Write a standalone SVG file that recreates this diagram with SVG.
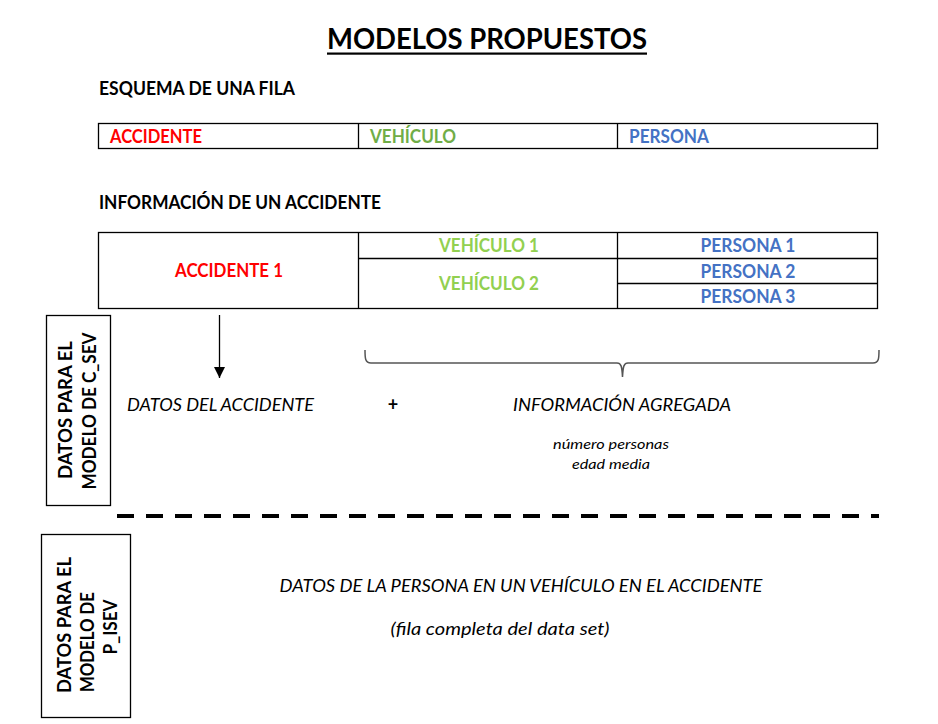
<svg xmlns="http://www.w3.org/2000/svg" width="938" height="724" viewBox="0 0 938 724">
<defs>
<style>
text{font-family:Lato,"Open Sans","Liberation Sans",sans-serif;}
.b{font-weight:bold;font-size:18px;}
.i{font-style:italic;font-size:18px;}
.s{font-style:italic;font-size:14px;}
.red{fill:#FF0000;}
.grn{fill:#70AD47;}
.lgr{fill:#92D050;}
.blu{fill:#4472C4;}
.box{fill:#fff;stroke:#000;stroke-width:1.3;}
.ln{stroke:#000;stroke-width:1.3;fill:none;}
</style>
<marker id="ah" markerWidth="11" markerHeight="11" refX="10" refY="5" orient="auto" markerUnits="userSpaceOnUse" viewBox="0 0 10 10">
<path d="M0,0 L10,5 L0,10 Z" fill="#000"/>
</marker>
</defs>
<rect width="938" height="724" fill="#fff"/>

<g id="title">
<text x="487" y="49" text-anchor="middle" font-weight="bold" font-size="28" textLength="320" lengthAdjust="spacingAndGlyphs">MODELOS PROPUESTOS</text>
<rect x="327" y="52.5" width="320" height="2.2" fill="#000"/>
</g>

<g id="heading1">
<text x="99" y="95" class="b" textLength="196" lengthAdjust="spacingAndGlyphs">ESQUEMA DE UNA FILA</text>
</g>

<g id="schema-row">
<rect x="98.5" y="123.5" width="779" height="25" class="box"/>
<line x1="358.5" y1="123.5" x2="358.5" y2="148.5" class="ln"/>
<line x1="617.5" y1="123.5" x2="617.5" y2="148.5" class="ln"/>
<text x="110" y="143" class="b red" textLength="92" lengthAdjust="spacingAndGlyphs">ACCIDENTE</text>
<text x="370" y="143" class="b grn" textLength="86" lengthAdjust="spacingAndGlyphs">VEHÍCULO</text>
<text x="629" y="143" class="b blu" textLength="80" lengthAdjust="spacingAndGlyphs">PERSONA</text>
</g>

<g id="heading2">
<text x="99" y="209" class="b" textLength="282" lengthAdjust="spacingAndGlyphs">INFORMACIÓN DE UN ACCIDENTE</text>
</g>

<g id="accident-table">
<rect x="98.5" y="232.5" width="779" height="76" class="box"/>
<line x1="358.5" y1="232.5" x2="358.5" y2="308.5" class="ln"/>
<line x1="617.5" y1="232.5" x2="617.5" y2="308.5" class="ln"/>
<line x1="358.5" y1="258.5" x2="877.5" y2="258.5" class="ln"/>
<line x1="617.5" y1="283.5" x2="877.5" y2="283.5" class="ln"/>
<text x="229" y="277" text-anchor="middle" class="b red" textLength="108" lengthAdjust="spacingAndGlyphs">ACCIDENTE 1</text>
<text x="489" y="252" text-anchor="middle" class="b lgr" textLength="100" lengthAdjust="spacingAndGlyphs">VEHÍCULO 1</text>
<text x="489" y="290" text-anchor="middle" class="b lgr" textLength="100" lengthAdjust="spacingAndGlyphs">VEHÍCULO 2</text>
<text x="748" y="252" text-anchor="middle" class="b blu" textLength="95" lengthAdjust="spacingAndGlyphs">PERSONA 1</text>
<text x="748" y="278" text-anchor="middle" class="b blu" textLength="95" lengthAdjust="spacingAndGlyphs">PERSONA 2</text>
<text x="748" y="303" text-anchor="middle" class="b blu" textLength="95" lengthAdjust="spacingAndGlyphs">PERSONA 3</text>
</g>

<g id="csev-label">
<rect x="46.5" y="315.5" width="64" height="190" class="box"/>
<text transform="translate(72,410) rotate(-90)" text-anchor="middle" class="b" textLength="138" lengthAdjust="spacingAndGlyphs">DATOS PARA EL</text>
<text transform="translate(96,411) rotate(-90)" text-anchor="middle" class="b" textLength="157" lengthAdjust="spacingAndGlyphs">MODELO DE C_SEV</text>
</g>

<g id="connectors">
<line x1="219.5" y1="315" x2="219.5" y2="378" class="ln" marker-end="url(#ah)"/>
<path d="M365,350 C365,358 365,363 371,363 L617,363 C621,363 622,366 622.5,377 C623,366 624,363 628,363 L873,363 C879,363 879,358 879,350" fill="none" stroke="#555" stroke-width="1.5"/>
<line x1="117" y1="516" x2="879" y2="516" stroke="#000" stroke-width="4" stroke-dasharray="17 12"/>
</g>

<g id="accident-data">
<text x="127" y="411" class="i" textLength="187" lengthAdjust="spacingAndGlyphs">DATOS DEL ACCIDENTE</text>
</g>
<g id="plus">
<text x="393" y="411" text-anchor="middle" font-weight="bold" font-size="18">+</text>
</g>
<g id="aggregated-info">
<text x="622" y="411" text-anchor="middle" class="i" textLength="218" lengthAdjust="spacingAndGlyphs">INFORMACIÓN AGREGADA</text>
<text x="611" y="449" text-anchor="middle" class="s" textLength="116" lengthAdjust="spacingAndGlyphs">número personas</text>
<text x="611" y="469" text-anchor="middle" class="s" textLength="78" lengthAdjust="spacingAndGlyphs">edad media</text>
</g>

<g id="pisev-label">
<rect x="41.5" y="534.5" width="89" height="183" class="box"/>
<text transform="translate(71,625) rotate(-90)" text-anchor="middle" class="b" textLength="136" lengthAdjust="spacingAndGlyphs">DATOS PARA EL</text>
<text transform="translate(94,642) rotate(-90)" text-anchor="middle" class="b" textLength="100" lengthAdjust="spacingAndGlyphs">MODELO DE</text>
<text transform="translate(117,627) rotate(-90)" text-anchor="middle" class="b" textLength="55" lengthAdjust="spacingAndGlyphs">P_ISEV</text>
</g>

<g id="person-data">
<text x="521" y="592" text-anchor="middle" class="i" textLength="483" lengthAdjust="spacingAndGlyphs">DATOS DE LA PERSONA EN UN VEHÍCULO EN EL ACCIDENTE</text>
<text x="500" y="635" text-anchor="middle" class="i" textLength="219" lengthAdjust="spacingAndGlyphs">(fila completa del data set)</text>
</g>
</svg>
